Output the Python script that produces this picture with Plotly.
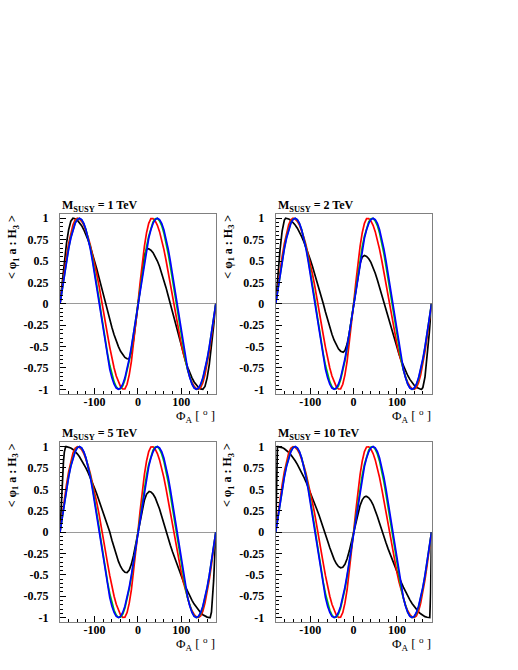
import plotly.graph_objects as go

# ---------------- data ----------------
PHI = [-180, -175, -170, -165, -160, -155, -150, -145, -140, -135, -130, -125, -120,
       -115, -110, -105, -100, -95, -90, -85, -80, -75, -70, -65, -60, -55, -50, -45,
       -40, -35, -30, -25, -20, -15, -10, -5, 0, 5, 10, 15, 20, 25, 30, 35, 40, 45,
       50, 55, 60, 65, 70, 75, 80, 85, 90, 95, 100, 105, 110, 115, 120, 125, 130,
       135, 140, 145, 150, 155, 160, 165, 170, 175, 180]

BLUE = [0, 0.174, 0.342, 0.5, 0.643, 0.766, 0.866, 0.94, 0.985, 1.0, 0.985, 0.94, 0.866,
        0.766, 0.643, 0.5, 0.342, 0.174, 0,
        -0.174, -0.342, -0.5, -0.643, -0.766, -0.866, -0.94, -0.985, -1.0, -0.985, -0.94,
        -0.866, -0.766, -0.643, -0.5, -0.342, -0.174, 0,
        0.174, 0.342, 0.5, 0.643, 0.766, 0.866, 0.94, 0.985, 1.0, 0.985, 0.94, 0.866,
        0.766, 0.643, 0.5, 0.342, 0.174, 0,
        -0.174, -0.342, -0.5, -0.643, -0.766, -0.866, -0.94, -0.985, -1.0, -0.985, -0.94,
        -0.866, -0.766, -0.643, -0.5, -0.342, -0.174, 0]

GREEN = [0, 0.177, 0.350, 0.510, 0.655, 0.778, 0.878, 0.949, 0.990, 0.999, 0.981, 0.936,
         0.866, 0.773, 0.659, 0.528, 0.383, 0.227, 0.065, -0.105, -0.276, -0.438, -0.588,
         -0.719, -0.829, -0.914, -0.970, -0.998, -0.994, -0.958, -0.889, -0.791, -0.667,
         -0.521, -0.357, -0.182,
         0, 0.182, 0.357, 0.521, 0.667, 0.791, 0.889, 0.958, 0.994, 0.998, 0.970, 0.914,
         0.829, 0.719, 0.588, 0.438, 0.276, 0.105, -0.065, -0.227, -0.383, -0.528, -0.659,
         -0.773, -0.866, -0.936, -0.981, -0.999, -0.990, -0.949, -0.878, -0.778, -0.655,
         -0.510, -0.350, -0.177, 0]

RED = [0, 0.195, 0.383, 0.556, 0.707, 0.831, 0.924, 0.981, 1.0, 0.991, 0.964, 0.919,
       0.857, 0.779, 0.687, 0.583, 0.468, 0.345, 0.215, 0.081, -0.063, -0.218, -0.368,
       -0.509, -0.637, -0.750, -0.844, -0.918, -0.969, -0.996, -0.995, -0.941, -0.831,
       -0.672, -0.471, -0.243,
       0, 0.243, 0.471, 0.672, 0.831, 0.941, 0.995, 0.996, 0.969, 0.918, 0.844, 0.750,
       0.637, 0.509, 0.368, 0.218, 0.063, -0.081, -0.215, -0.345, -0.468, -0.583, -0.687,
       -0.779, -0.857, -0.919, -0.964, -0.991, -1.0, -0.981, -0.924, -0.831, -0.707,
       -0.556, -0.383, -0.195, 0]

# black curves (one per M_SUSY panel)
BLACK_1_PHI = [-180, -175, -170, -165, -160, -155, -150, -145, -140, -135, -130, -125,
               -120, -115, -110, -105, -100, -95, -90, -85, -80, -75, -70, -65, -60, -55,
               -50, -45, -40, -35, -30, -25, -22, -20, -15, -10, -5,
               0, 5, 10, 15, 20, 22, 25, 30, 35, 40, 45, 50, 55, 60, 65, 70, 75, 80, 85,
               90, 95, 100, 105, 110, 115, 120, 125, 130, 135, 140, 145, 150, 155, 160,
               165, 170, 175, 180]
BLACK_1 = [0, 0.259, 0.5, 0.707, 0.866, 0.966, 1.0, 0.995, 0.978, 0.951, 0.914, 0.866,
           0.809, 0.743, 0.669, 0.588, 0.5, 0.407, 0.309, 0.208, 0.105, 0, -0.095, -0.189,
           -0.278, -0.361, -0.436, -0.5, -0.555, -0.598, -0.627, -0.642, -0.645, -0.638,
           -0.566, -0.422, -0.225,
           0, 0.225, 0.422, 0.566, 0.638, 0.645, 0.642, 0.627, 0.598, 0.555, 0.5, 0.436,
           0.361, 0.278, 0.189, 0.095, 0, -0.105, -0.208, -0.309, -0.407, -0.5, -0.588,
           -0.669, -0.743, -0.809, -0.866, -0.914, -0.951, -0.978, -0.995, -1.0, -0.966,
           -0.866, -0.707, -0.5, -0.259, 0]

BLACK_2_PHI = [-180, -175, -170, -165, -160, -157, -155, -150, -145, -140, -135, -130,
               -125, -120, -115, -110, -105, -100, -95, -90, -85, -80, -75, -70, -65, -60,
               -55, -50, -45, -40, -35, -30, -25, -24, -20, -15, -10, -5,
               0, 5, 10, 15, 20, 24, 25, 30, 35, 40, 45, 50, 55, 60, 65, 70, 75, 80, 85,
               90, 95, 100, 105, 110, 115, 120, 125, 130, 135, 140, 145, 150, 155, 157,
               160, 165, 170, 175, 180]
BLACK_2 = [0, 0.335, 0.631, 0.854, 0.979, 1.0, 0.999, 0.992, 0.977, 0.953, 0.922, 0.884,
           0.838, 0.785, 0.726, 0.661, 0.591, 0.516, 0.436, 0.353, 0.267, 0.180, 0.090, 0,
           -0.096, -0.190, -0.277, -0.357, -0.426, -0.484, -0.527, -0.554, -0.565, -0.566,
           -0.547, -0.471, -0.345, -0.182,
           0, 0.182, 0.345, 0.471, 0.547, 0.566, 0.565, 0.554, 0.527, 0.484, 0.426, 0.357,
           0.277, 0.190, 0.096, 0, -0.090, -0.180, -0.267, -0.353, -0.436, -0.516, -0.591,
           -0.661, -0.726, -0.785, -0.838, -0.884, -0.922, -0.953, -0.977, -0.992, -0.999,
           -1.0, -0.979, -0.854, -0.631, -0.335, 0]

BLACK_3_PHI = [-180, -178, -175, -172, -170, -167, -165, -160, -155, -150, -145, -140,
               -135, -130, -125, -120, -115, -110, -105, -100, -95, -90, -85, -80, -75,
               -70, -65, -60, -55, -50, -45, -40, -35, -30, -26, -25, -20, -15, -10, -5,
               0, 5, 10, 15, 20, 25, 26, 30, 35, 40, 45, 50, 55, 60, 65, 70, 75, 80, 85,
               90, 95, 100, 105, 110, 115, 120, 125, 130, 135, 140, 145, 150, 155, 160,
               165, 167, 170, 172, 175, 178, 180]
BLACK_3 = [0, 0.239, 0.568, 0.823, 0.935, 1.0, 1.0, 0.994, 0.983, 0.966, 0.943, 0.915,
           0.881, 0.842, 0.798, 0.749, 0.696, 0.639, 0.578, 0.513, 0.446, 0.376, 0.303,
           0.229, 0.153, 0.077, 0, -0.095, -0.186, -0.270, -0.343, -0.402, -0.444, -0.469,
           -0.475, -0.474, -0.444, -0.374, -0.270, -0.141,
           0, 0.141, 0.270, 0.374, 0.444, 0.474, 0.475, 0.469, 0.444, 0.402, 0.343, 0.270,
           0.186, 0.095, 0, -0.077, -0.153, -0.229, -0.303, -0.376, -0.446, -0.513,
           -0.578, -0.639, -0.696, -0.749, -0.798, -0.842, -0.881, -0.915, -0.943,
           -0.966, -0.983, -0.994, -1.0, -1.0, -0.935, -0.823, -0.568, -0.239, 0]

BLACK_4_PHI = [-180, -178, -176, -175, -170, -165, -160, -155, -150, -145, -140, -135,
               -130, -125, -120, -115, -110, -105, -100, -95, -90, -85, -80, -75, -70,
               -66, -65, -60, -55, -50, -45, -40, -35, -30, -28, -25, -20, -15, -10, -5,
               0, 5, 10, 15, 20, 25, 28, 30, 35, 40, 45, 50, 55, 60, 65, 66, 70, 75, 80,
               85, 90, 95, 100, 105, 110, 115, 120, 125, 130, 135, 140, 145, 150, 155,
               160, 165, 170, 175, 176, 178, 180]
BLACK_4 = [0, 0.707, 1.0, 1.0, 0.996, 0.988, 0.974, 0.955, 0.932, 0.903, 0.871, 0.834,
           0.792, 0.746, 0.697, 0.644, 0.588, 0.528, 0.467, 0.402, 0.336, 0.268, 0.199,
           0.128, 0.057, 0, -0.017, -0.103, -0.183, -0.257, -0.319, -0.368, -0.401,
           -0.417, -0.418, -0.412, -0.377, -0.312, -0.222, -0.116,
           0, 0.116, 0.222, 0.312, 0.377, 0.412, 0.418, 0.417, 0.401, 0.368, 0.319, 0.257,
           0.183, 0.103, 0.017, 0, -0.057, -0.128, -0.199, -0.268, -0.336, -0.402, -0.467,
           -0.528, -0.588, -0.644, -0.697, -0.746, -0.792, -0.834, -0.871, -0.903, -0.932,
           -0.955, -0.974, -0.988, -0.996, -1.0, -1.0, -0.707, 0]

PANEL_MASSES = ["1 TeV", "2 TeV", "5 TeV", "10 TeV"]
BLACK_PHI = [BLACK_1_PHI, BLACK_2_PHI, BLACK_3_PHI, BLACK_4_PHI]
BLACK = [BLACK_1, BLACK_2, BLACK_3, BLACK_4]

X_TICKS = [-100, 0, 100]
X_TICKTEXT = ["-100", "0", "100"]
Y_TICKS = [1, 0.75, 0.5, 0.25, 0, -0.25, -0.5, -0.75, -1]
Y_TICKTEXT = ["1", "0.75", "0.5", "0.25", "0", "-0.25", "-0.5", "-0.75", "-1"]

# ---------------- layout geometry ----------------
W, H = 518, 670
LEFTS = [60, 275.7, 60, 275.7]
TOPS = [214, 214, 442.3, 442.3]
PW, PH = 155.8, 179.6
SERIF = "Liberation Serif, Times New Roman, serif"

fig = go.Figure()
annotations = []
layout = {}

for i in range(4):
    n = i + 1
    xs = "x" if n == 1 else f"x{n}"
    ys = "y" if n == 1 else f"y{n}"
    curves = [
        (BLACK_PHI[i], BLACK[i], "black"),
        (PHI, RED, "#ff0000"),
        (PHI, GREEN, "#00c800"),
        (PHI, BLUE, "#0000ff"),
    ]
    for xv, yv, col in curves:
        fig.add_trace(go.Scatter(x=xv, y=yv, mode="lines", xaxis=xs, yaxis=ys,
                                 line=dict(color=col, width=1.7),
                                 showlegend=False, hoverinfo="skip"))

    x0 = LEFTS[i] / W
    x1 = (LEFTS[i] + PW) / W
    y1 = 1 - TOPS[i] / H
    y0 = 1 - (TOPS[i] + PH) / H
    tickfont = dict(family=SERIF, size=12, color="black", weight="bold")
    layout["xaxis" if n == 1 else f"xaxis{n}"] = dict(
        domain=[x0, x1], range=[-180, 180], anchor=ys,
        tickmode="array", tickvals=X_TICKS, ticktext=X_TICKTEXT,
        ticks="inside", ticklen=6, tickwidth=1, tickcolor="black",
        minor=dict(tickmode="linear", tick0=0, dtick=20, ticks="inside",
                   ticklen=3, tickwidth=1, tickcolor="black", showgrid=False),
        showline=True, mirror=True, linecolor="#808080", linewidth=1,
        showgrid=False, zeroline=False, tickfont=tickfont, ticklabelstandoff=-3,
        fixedrange=True)
    layout["yaxis" if n == 1 else f"yaxis{n}"] = dict(
        domain=[y0, y1], range=[-1.05, 1.05], anchor=xs,
        tickmode="array", tickvals=Y_TICKS, ticktext=Y_TICKTEXT,
        ticks="inside", ticklen=6, tickwidth=1, tickcolor="black",
        minor=dict(tickmode="linear", tick0=0, dtick=0.05, ticks="inside",
                   ticklen=3, tickwidth=1, tickcolor="black", showgrid=False),
        showline=True, mirror=True, linecolor="#808080", linewidth=1,
        showgrid=False, zeroline=True, zerolinecolor="#9a9a9a", zerolinewidth=1,
        tickfont=tickfont, ticklabelstandoff=8, fixedrange=True)

    # panel title
    annotations.append(dict(
        text=f"<b>M<sub>SUSY</sub> = {PANEL_MASSES[i]}</b>",
        xref="paper", yref="paper", x=LEFTS[i] / W, y=1 - (TOPS[i] + 2) / H,
        xanchor="left", yanchor="bottom", showarrow=False,
        font=dict(family=SERIF, size=12, color="black")))
    # y-axis title
    annotations.append(dict(
        text="<b>&lt; φ<sub>1</sub> a : H<sub>3</sub> &gt;</b>",
        xref="paper", yref="paper", x=(LEFTS[i] - 47) / W, y=1 - (TOPS[i] - 1) / H,
        xanchor="center", yanchor="top", textangle=-90, showarrow=False,
        font=dict(family=SERIF, size=12, color="black")))
    # x-axis title
    annotations.append(dict(
        text="Φ<sub>A</sub> [ <sup>o</sup> ]",
        xref="paper", yref="paper", x=(LEFTS[i] + PW + 1) / W,
        y=1 - (TOPS[i] + PH + 22.5) / H,
        xanchor="right", yanchor="middle", showarrow=False,
        font=dict(family=SERIF, size=13, color="black")))

fig.update_layout(
    width=W, height=H, margin=dict(l=0, r=0, t=0, b=0, autoexpand=False),
    paper_bgcolor="white", plot_bgcolor="white",
    annotations=annotations, showlegend=False, **layout)

fig.write_html("out.html", config={"displayModeBar": False})

# remove the browser's default page margin so the figure sits at the window origin
with open("out.html", "r", encoding="utf-8") as f:
    page = f.read()
page = page.replace("<body>", '<body style="margin:0;padding:0;overflow:hidden">', 1)
with open("out.html", "w", encoding="utf-8") as f:
    f.write(page)
